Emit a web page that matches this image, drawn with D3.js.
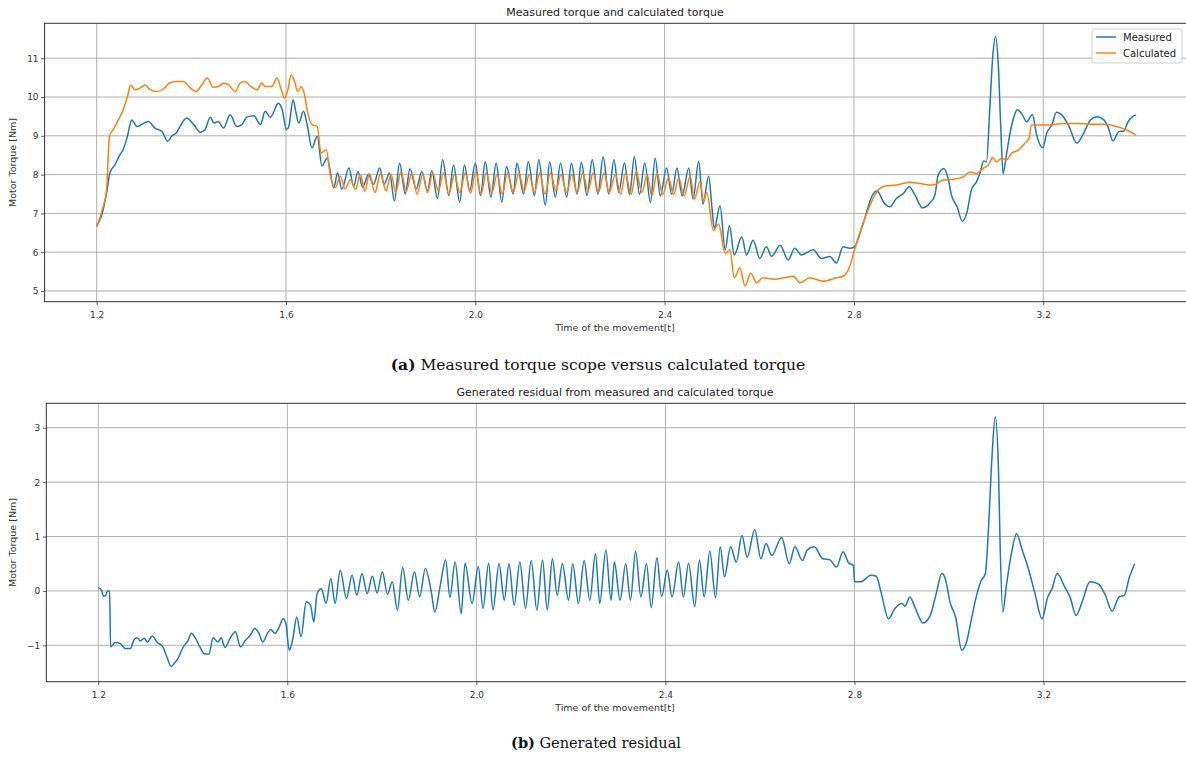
<!DOCTYPE html>
<html>
<head>
<meta charset="utf-8">
<script src="https://cdn.jsdelivr.net/npm/d3@7"></script>
<style>
  body { margin: 0; background: #fff; }
  svg { display: block; }
</style>
</head>
<body>
<svg id="chart" width="1186" height="758"></svg>
<script>
// values: [time, torque]
const xTicks = [1.2, 1.6, 2.0, 2.4, 2.8, 3.2]
const torqueTicks = [5, 6, 7, 8, 9, 10, 11]
const residualTicks = [-1, 0, 1, 2, 3]
const seriesNames = ['Measured', 'Calculated']

const measured = [
  [1.200,6.68],[1.211,6.97],[1.221,7.53],[1.228,8.04],[1.239,8.26],[1.249,8.51],[1.256,8.64],[1.265,8.99],
  [1.274,9.41],[1.285,9.24],[1.295,9.29],[1.309,9.37],[1.323,9.20],[1.338,9.11],[1.350,8.86],[1.359,9.00],
  [1.368,9.07],[1.376,9.24],[1.390,9.46],[1.405,9.29],[1.419,9.09],[1.429,9.16],[1.440,9.48],[1.448,9.33],
  [1.457,9.37],[1.468,9.20],[1.482,9.54],[1.496,9.24],[1.507,9.29],[1.517,9.48],[1.532,9.52],[1.546,9.29],
  [1.556,9.63],[1.567,9.48],[1.584,9.84],[1.592,9.67],[1.601,9.16],[1.606,9.24],[1.615,9.93],[1.620,9.67],
  [1.627,9.33],[1.637,9.63],[1.644,9.33],[1.655,8.69],[1.666,8.99],[1.676,8.22],[1.687,8.43],[1.701,7.66],
  [1.709,8.04],[1.718,7.62],[1.733,8.17],[1.743,7.70],[1.752,8.08],
  [1.762,7.67],[1.774,8.00],[1.785,7.75],[1.798,8.17],[1.807,7.75],[1.819,8.04],[1.829,7.32],[1.840,8.29],
  [1.852,7.50],[1.862,8.15],[1.875,7.63],[1.887,8.08],[1.899,7.58],[1.908,8.10],[1.920,7.38],[1.931,8.38],
  [1.944,7.46],[1.954,8.25],[1.967,7.29],[1.977,8.25],[1.988,7.58],[2.000,8.29],[2.011,7.46],[2.021,8.33],
  [2.033,7.42],[2.044,8.29],[2.056,7.29],[2.066,8.21],[2.080,7.50],[2.088,8.29],[2.102,7.50],[2.112,8.33],
  [2.125,7.46],[2.134,8.38],[2.148,7.21],[2.157,8.33],[2.169,7.42],[2.180,8.29],[2.193,7.42],[2.203,8.29],
  [2.215,7.50],[2.224,8.32],[2.236,7.46],[2.247,8.38],[2.259,7.50],[2.270,8.46],[2.282,7.50],
  [2.293,8.38],[2.303,7.54],[2.315,8.30],[2.326,7.49],[2.336,8.46],[2.347,7.49],[2.358,8.30],[2.370,7.28],
  [2.380,8.42],[2.391,7.45],[2.404,8.17],[2.415,7.49],[2.426,8.17],[2.437,7.45],[2.451,8.17],[2.460,7.37],
  [2.472,8.34],[2.481,7.24],[2.493,7.96],[2.500,7.15],[2.505,6.61],[2.517,7.20],[2.528,6.06],[2.537,6.69],
  [2.547,5.93],[2.563,6.39],[2.573,5.93],[2.587,6.31],[2.601,5.84],[2.615,6.14],[2.626,5.89],[2.644,6.18],
  [2.661,5.80],[2.675,6.10],[2.689,5.93],[2.714,6.06],[2.731,5.84],[2.749,5.89],[2.763,5.72],[2.777,6.14],
  [2.791,6.10],[2.801,6.14],[2.819,6.73],[2.840,7.49],[2.847,7.58],
  [2.851,7.56],[2.862,7.30],[2.876,7.17],[2.890,7.39],[2.904,7.51],[2.917,7.69],[2.929,7.47],[2.945,7.14],
  [2.960,7.26],[2.971,7.47],[2.978,7.99],[2.990,8.16],[2.999,7.90],[3.006,7.47],[3.018,7.17],[3.029,6.80],
  [3.039,7.04],[3.048,7.60],[3.059,7.82],[3.067,8.07],[3.074,8.35],[3.080,8.33],[3.087,9.71],[3.093,11.00],
  [3.099,11.56],[3.105,10.83],[3.110,9.28],[3.115,8.03],[3.122,8.50],[3.129,9.02],[3.138,9.49],[3.145,9.67],
  [3.156,9.54],[3.165,9.36],[3.177,9.55],[3.186,9.02],[3.199,8.69],[3.207,9.06],[3.218,9.28],[3.228,9.61],
  [3.239,9.54],[3.253,9.28],[3.271,8.81],[3.285,9.06],[3.300,9.41],[3.314,9.49],[3.328,9.41],[3.338,9.19],
  [3.347,8.87],[3.360,9.11],[3.370,9.12],[3.379,9.36],[3.388,9.49],[3.396,9.54]
]

const calculated = [
  [1.200,6.65],[1.211,7.06],[1.221,7.62],[1.227,8.99],[1.235,9.16],[1.246,9.41],[1.256,9.67],[1.265,10.01],
  [1.272,10.31],[1.281,10.19],[1.292,10.23],[1.302,10.31],[1.313,10.19],[1.327,10.14],[1.341,10.20],[1.354,10.36],
  [1.369,10.40],[1.383,10.40],[1.398,10.23],[1.410,10.14],[1.422,10.31],[1.434,10.49],[1.446,10.25],[1.457,10.27],
  [1.468,10.36],[1.479,10.31],[1.493,10.14],[1.503,10.36],[1.514,10.40],[1.524,10.29],[1.539,10.19],[1.549,10.36],
  [1.556,10.27],[1.570,10.27],[1.581,10.49],[1.589,10.23],[1.597,9.97],[1.604,10.19],[1.611,10.57],[1.618,10.40],
  [1.625,10.14],[1.632,10.27],[1.639,10.06],[1.646,9.59],[1.655,9.29],[1.666,9.24],[1.674,8.56],[1.685,8.64],
  [1.694,7.96],[1.704,7.66],[1.715,7.96],[1.725,7.63],[1.736,7.87],[1.747,7.62],
  [1.757,8.00],[1.767,7.58],[1.776,8.02],[1.788,7.54],[1.800,8.04],[1.811,7.58],[1.822,8.00],[1.832,7.54],
  [1.843,8.08],[1.854,7.58],[1.866,8.04],[1.877,7.50],[1.889,8.00],[1.899,7.54],[1.910,8.04],[1.922,7.58],
  [1.933,8.04],[1.944,7.50],[1.956,8.00],[1.967,7.54],[1.979,8.04],[1.990,7.52],[2.001,8.08],[2.012,7.50],
  [2.023,8.04],[2.035,7.54],[2.046,8.00],[2.057,7.50],[2.068,8.04],[2.080,7.54],[2.092,8.04],[2.103,7.58],
  [2.114,8.00],[2.125,7.54],[2.136,8.04],[2.147,7.50],[2.159,8.04],[2.170,7.58],[2.181,8.00],[2.193,7.54],
  [2.204,8.00],[2.215,7.52],[2.227,8.04],[2.238,7.58],[2.249,8.04],[2.260,7.54],[2.272,8.04],[2.283,7.54],
  [2.296,8.00],[2.307,7.49],[2.317,8.04],[2.329,7.49],[2.340,8.08],[2.352,7.54],[2.363,8.00],[2.373,7.45],
  [2.384,8.04],[2.396,7.49],[2.408,7.92],[2.419,7.49],[2.430,7.92],[2.441,7.45],[2.454,7.96],[2.463,7.37],
  [2.475,7.83],[2.482,7.32],[2.489,7.54],[2.503,6.56],[2.514,6.73],[2.528,5.97],[2.538,6.06],[2.547,5.34],
  [2.559,5.59],[2.570,5.13],[2.582,5.46],[2.594,5.21],[2.608,5.34],[2.630,5.30],[2.651,5.34],[2.672,5.38],
  [2.686,5.21],[2.707,5.34],[2.735,5.25],[2.763,5.34],[2.777,5.38],[2.791,5.63],[2.801,6.06],[2.819,6.73],
  [2.844,7.47],
  [2.854,7.64],[2.868,7.71],[2.890,7.73],[2.918,7.80],[2.939,7.77],[2.967,7.73],[2.988,7.86],[3.010,7.88],
  [3.031,7.94],[3.045,8.07],[3.059,8.03],[3.073,8.16],[3.084,8.25],[3.093,8.44],[3.101,8.33],[3.112,8.42],
  [3.122,8.38],[3.133,8.55],[3.147,8.63],[3.161,8.81],[3.170,8.93],[3.175,9.28],[3.193,9.28],[3.214,9.28],
  [3.242,9.32],[3.271,9.32],[3.300,9.30],[3.328,9.30],[3.355,9.24],[3.376,9.15],[3.396,9.02]
]

const residual = [
  [1.200,0.06],[1.207,0.01],[1.211,-0.10],[1.216,-0.08],[1.219,0.00],[1.224,0.00],[1.226,-1.03],[1.236,-0.95],
  [1.247,-0.97],[1.257,-1.06],[1.268,-1.06],[1.275,-0.91],[1.282,-0.86],[1.289,-0.92],[1.297,-0.87],[1.304,-0.94],
  [1.314,-0.83],[1.325,-0.95],[1.336,-1.02],[1.345,-1.21],[1.354,-1.39],[1.361,-1.33],[1.370,-1.22],[1.379,-1.04],
  [1.390,-0.91],[1.397,-0.78],[1.405,-0.86],[1.415,-1.03],[1.425,-1.16],[1.434,-1.16],[1.443,-0.86],[1.453,-0.94],
  [1.460,-0.86],[1.468,-1.04],[1.479,-0.87],[1.490,-0.75],[1.501,-1.03],[1.511,-0.91],[1.522,-0.81],[1.531,-0.69],
  [1.540,-0.78],[1.548,-0.94],[1.558,-0.78],[1.565,-0.71],[1.574,-0.78],[1.583,-0.66],[1.591,-0.51],[1.597,-0.60],
  [1.604,-1.09],[1.611,-0.91],[1.620,-0.48],[1.629,-0.84],[1.640,-0.20],[1.649,-0.26],[1.656,-0.57],[1.663,-0.05],
  [1.672,0.04],[1.682,-0.23],[1.692,0.23],[1.701,-0.23],[1.712,0.38],[1.725,-0.14],[1.737,0.29],[1.747,-0.08],
  [1.758,0.32],[1.769,-0.05],[1.780,0.27],[1.790,-0.04],[1.801,0.35],[1.812,-0.06],[1.822,0.17],[1.833,-0.35],
  [1.844,0.43],[1.856,-0.17],[1.869,0.35],[1.880,-0.11],[1.892,0.41],[1.905,-0.04],[1.912,-0.39],[1.923,0.07],
  [1.935,0.57],[1.944,-0.12],[1.955,0.53],[1.968,-0.42],[1.976,0.51],[1.991,-0.23],[2.004,0.45],[2.014,-0.32],
  [2.026,0.51],[2.035,-0.35],[2.048,0.50],[2.059,-0.17],[2.069,0.50],[2.080,-0.26],[2.092,0.53],[2.104,-0.32],
  [2.116,0.56],[2.128,-0.35],[2.140,0.57],[2.150,-0.35],[2.161,0.59],[2.171,-0.08],[2.182,0.50],[2.195,-0.17],
  [2.204,0.50],[2.216,-0.23],[2.228,0.56],[2.240,-0.17],[2.252,0.69],[2.261,-0.23],[2.274,0.75],[2.285,-0.17],
  [2.292,0.53],[2.304,-0.17],[2.316,0.50],[2.326,-0.17],[2.337,0.73],[2.348,-0.11],[2.360,0.50],[2.370,-0.31],
  [2.382,0.61],[2.392,-0.10],[2.404,0.38],[2.414,-0.11],[2.428,0.53],[2.438,-0.11],[2.449,0.51],[2.462,-0.29],
  [2.472,0.57],[2.482,-0.11],[2.494,0.73],[2.506,-0.12],[2.516,0.81],[2.525,0.26],[2.538,0.81],[2.550,0.53],
  [2.562,1.02],[2.573,0.62],[2.589,1.13],[2.602,0.59],[2.613,0.87],[2.625,0.65],[2.646,0.98],[2.662,0.50],
  [2.674,0.81],[2.690,0.56],[2.700,0.75],[2.715,0.81],[2.733,0.59],[2.748,0.57],[2.762,0.44],[2.776,0.72],
  [2.788,0.51],[2.798,0.47],[2.800,0.17],[2.814,0.17],[2.835,0.29],[2.846,0.27],[2.857,-0.05],[2.872,-0.51],
  [2.886,-0.32],[2.900,-0.23],[2.907,-0.28],[2.917,-0.11],[2.929,-0.32],[2.945,-0.59],[2.960,-0.46],[2.973,-0.05],
  [2.985,0.32],[2.992,0.23],[3.003,-0.23],[3.014,-0.48],[3.027,-1.09],[3.036,-0.97],[3.047,-0.54],[3.056,-0.17],
  [3.067,0.17],[3.077,0.32],[3.083,1.05],[3.091,2.46],[3.098,3.20],[3.105,2.15],[3.108,0.93],[3.114,-0.39],
  [3.121,0.07],[3.132,0.68],[3.143,1.05],[3.155,0.75],[3.167,0.44],[3.182,-0.05],[3.197,-0.51],[3.209,-0.11],
  [3.218,0.04],[3.229,0.32],[3.245,0.07],[3.256,-0.11],[3.269,-0.45],[3.283,-0.17],[3.298,0.17],[3.316,0.13],
  [3.331,-0.08],[3.345,-0.37],[3.360,-0.11],[3.371,-0.08],[3.382,0.26],[3.393,0.50]
]

const blue = '#1f77b4'
const orange = '#ff7f0e'
const sans = 'DejaVu Sans, sans-serif'
const serif = 'DejaVu Serif, serif'

const svg = d3.select('#chart')

function drawPanel(p) {
  const x = d3.scaleLinear().domain([1.09, 3.51]).range([p.left, p.right])
  const y = d3.scaleLinear().domain(p.yDomain).range([p.bottom, p.top])
  const g = svg.append('g')

  // grid
  g.append('g').selectAll('line').data(xTicks).join('line')
    .attr('x1', d => x(d)).attr('x2', d => x(d))
    .attr('y1', p.top).attr('y2', p.bottom)
    .attr('stroke', '#b0b0b0').attr('stroke-width', 1)
  g.append('g').selectAll('line').data(p.yTicks).join('line')
    .attr('x1', p.left).attr('x2', p.right)
    .attr('y1', d => y(d)).attr('y2', d => y(d))
    .attr('stroke', '#b0b0b0').attr('stroke-width', 1)

  const line = d3.line()
    .x(d => x(d[0]))
    .y(d => y(d[1]))
    .curve(d3.curveMonotoneX)

  p.series.forEach(s => {
    g.append('path')
      .datum(s.data)
      .attr('fill', 'none')
      .attr('stroke', s.color)
      .attr('stroke-width', 1.5)
      .attr('stroke-linejoin', 'round')
      .attr('d', line)
  })

  // axes
  const xAxis = d3.axisBottom(x).tickValues(xTicks).tickFormat(d3.format('.1f')).tickSize(3.5).tickSizeOuter(0)
  const yAxis = d3.axisLeft(y).tickValues(p.yTicks).tickFormat(d3.format('d')).tickSize(3.5).tickSizeOuter(0)
  const gx = g.append('g').attr('transform', `translate(0,${p.bottom})`).call(xAxis)
  const gy = g.append('g').attr('transform', `translate(${p.left},0)`).call(yAxis)
  ;[gx, gy].forEach(a => {
    a.select('.domain').remove()
    a.selectAll('line').attr('stroke', '#333').attr('stroke-width', 0.8)
    a.selectAll('text').attr('fill', '#333').style('font-family', sans).style('font-size', '9px')
  })
  gx.selectAll('text').attr('dy', '1.05em')
  gy.selectAll('text').attr('x', -6)

  // spines
  g.append('rect')
    .attr('x', p.left).attr('y', p.top)
    .attr('width', p.right - p.left).attr('height', p.bottom - p.top)
    .attr('fill', 'none').attr('stroke', '#333').attr('stroke-width', 1)

  g.append('text')
    .attr('x', 615).attr('y', p.top - 7)
    .attr('text-anchor', 'middle')
    .style('font-family', sans).style('font-size', '11px').attr('fill', '#222')
    .text(p.title)
  g.append('text')
    .attr('x', 615).attr('y', p.bottom + 29.5)
    .attr('text-anchor', 'middle')
    .style('font-family', sans).style('font-size', '9.5px').attr('fill', '#333')
    .text('Time of the movement[t]')
  g.append('text')
    .attr('transform', `translate(16,${(p.top + p.bottom) / 2}) rotate(-90)`)
    .attr('text-anchor', 'middle')
    .style('font-family', sans).style('font-size', '9.5px').attr('fill', '#333')
    .text('Motor Torque [Nm]')

  const cap = svg.append('text')
    .attr('x', p.captionX).attr('y', p.captionY)
    .attr('text-anchor', 'middle')
    .style('font-family', serif).style('font-size', p.captionSize).attr('fill', '#111')
  cap.append('tspan').attr('font-weight', 'bold').text(p.captionTag)
  cap.append('tspan').text(' ' + p.caption)

  return { x, y, g }
}

const torquePanel = drawPanel({
  left: 44.6, right: 1190, top: 23.3, bottom: 301.7,
  yDomain: [4.724, 11.9], yTicks: torqueTicks,
  title: 'Measured torque and calculated torque',
  series: [{ data: measured, color: blue }, { data: calculated, color: orange }],
  captionTag: '(a)', caption: 'Measured torque scope versus calculated torque',
  captionX: 598, captionY: 370, captionSize: '15.5px'
})

const residualPanel = drawPanel({
  left: 46.3, right: 1190, top: 403.3, bottom: 681.7,
  yDomain: [-1.669, 3.449], yTicks: residualTicks,
  title: 'Generated residual from measured and calculated torque',
  series: [{ data: residual, color: blue }],
  captionTag: '(b)', caption: 'Generated residual',
  captionX: 596, captionY: 748, captionSize: '14.5px'
})

// legend
const legend = svg.append('g').attr('transform', 'translate(1092,29)')
legend.append('rect')
  .attr('width', 90).attr('height', 34).attr('rx', 2)
  .attr('fill', '#fff').attr('fill-opacity', 0.85)
  .attr('stroke', '#d0d0d0').attr('stroke-width', 1)
const items = legend.selectAll('g.item').data(seriesNames).join('g')
  .attr('class', 'item')
  .attr('transform', (d, i) => `translate(0,${8 + i * 16})`)
items.append('line')
  .attr('x1', 4).attr('x2', 24)
  .attr('stroke', (d, i) => [blue, orange][i]).attr('stroke-width', 1.5)
items.append('text')
  .attr('x', 31).attr('dy', '0.35em')
  .style('font-family', sans).style('font-size', '10px').attr('fill', '#222')
  .text(d => d)
</script>
</body>
</html>
